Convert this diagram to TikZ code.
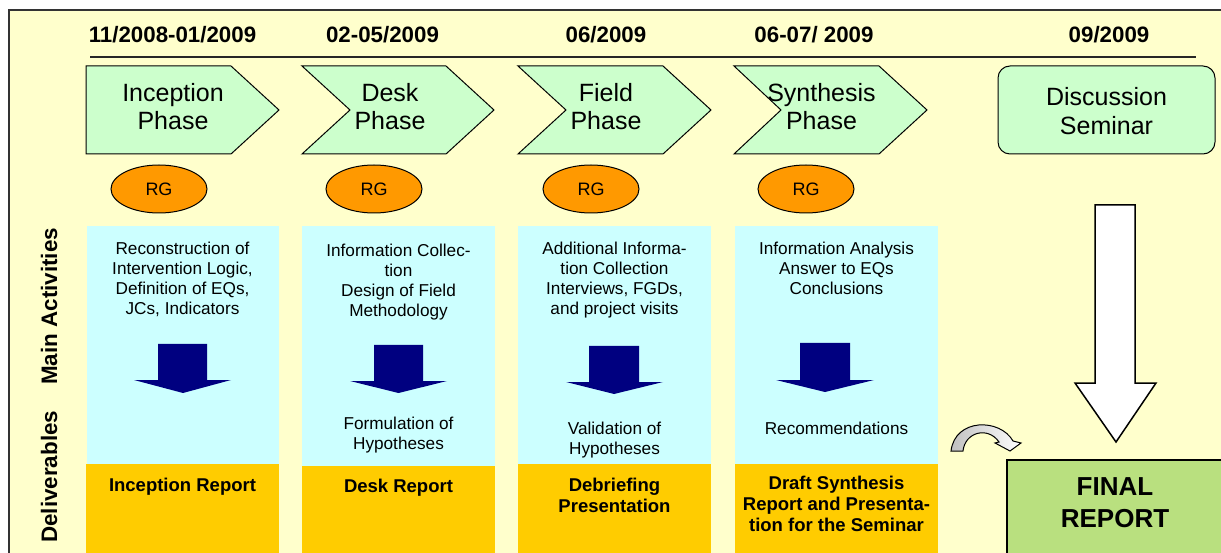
\documentclass[tikz,border=0pt]{standalone}
\usepackage{fontspec}
\setmainfont{Liberation Sans}
\usetikzlibrary{shapes.geometric}
\definecolor{bgY}{HTML}{FFFFCC}
\definecolor{phaseG}{HTML}{CCFFCC}
\definecolor{actC}{HTML}{CCFFFF}
\definecolor{delY}{HTML}{FFCC00}
\definecolor{rgO}{HTML}{FF9900}
\definecolor{navyA}{HTML}{000080}
\definecolor{finalG}{HTML}{B9E07F}
\definecolor{greyA}{HTML}{C0C0C0}
\begin{document}
\begin{tikzpicture}[x=1pt,y=-1pt,
  framebox/.style={draw=black!80,line width=1.5pt,fill=bgY},
  timeline/.style={draw=black!85,line width=1.4pt},
  phasebox/.style={draw=black,line width=1pt,fill=phaseG,line join=miter},
  phasetxt/.style={font=\fontsize{25}{28}\selectfont,align=center,inner sep=0pt,anchor=north},
  datetxt/.style={font=\fontsize{22.3}{26}\selectfont\bfseries,inner sep=0pt,anchor=base},
  rgnode/.style={ellipse,draw=black,line width=1pt,fill=rgO,minimum width=96pt,minimum height=48pt,inner sep=0pt,font=\fontsize{18}{20}\selectfont},
  actbox/.style={fill=actC},
  delbox/.style={fill=delY},
  acttxt/.style={font=\fontsize{17.2}{20}\selectfont,align=center,inner sep=0pt,anchor=north},
  deltxt/.style={font=\fontsize{18.5}{20.7}\selectfont\bfseries,align=center,inner sep=0pt,anchor=north},
  navyarrow/.style={fill=navyA},
  sidetxt/.style={font=\fontsize{22.4}{26}\selectfont\bfseries,rotate=90,inner sep=0pt,anchor=base west},
  whitearrow/.style={draw=black,line width=1.5pt,fill=white,line join=miter},
  curvarrow/.style={draw=black,line width=1pt,left color=greyA,right color=white,line join=miter},
  finalbox/.style={draw=black,line width=1.8pt,fill=finalG},
  finaltxt/.style={font=\fontsize{26}{32}\selectfont\bfseries,align=center,inner sep=0pt,anchor=north}
]
\useasboundingbox (0,0) rectangle (1221,553);
\clip (0,0) rectangle (1221,553);
\fill[white] (0,0) rectangle (1221,553);
\draw[framebox] (9,10) rectangle (1240,575);

% dates and timeline
\node[datetxt] (d1) at (172.5,43) {11/2008-01/2009};
\node[datetxt] (d2) at (382.5,43) {02-05/2009};
\node[datetxt] (d3) at (606,43) {06/2009};
\node[datetxt] (d4) at (814,43) {06-07/ 2009};
\node[datetxt] (d5) at (1109,43) {09/2009};
\coordinate (tlA) at (90,57);
\coordinate (tlB) at (1196,57);
\draw[timeline] (tlA) -- (tlB);

% phases
\draw[phasebox] (86,66) -- (231,66) -- (279,110) -- (231,154) -- (86,154) -- cycle;
\draw[phasebox] (302,66) -- (446,66) -- (494,110) -- (446,154) -- (302,154) -- (350,110) -- cycle;
\draw[phasebox] (518,66) -- (663,66) -- (711,110) -- (663,154) -- (518,154) -- (566,110) -- cycle;
\draw[phasebox] (734,66) -- (879,66) -- (927,110) -- (879,154) -- (734,154) -- (781,110) -- cycle;
\draw[phasebox,rounded corners=12pt] (998,66) rectangle (1215,154);
\node[phasetxt] (p1) at (173,83) {Inception\\Phase};
\node[phasetxt] (p2) at (390,83) {Desk\\Phase};
\node[phasetxt] (p3) at (606,83) {Field\\Phase};
\node[phasetxt] (p4) at (821.5,83) {Synthesis\\Phase};
\node[phasetxt,font=\fontsize{25}{29}\selectfont] (p5) at (1106.5,87) {Discussion\\Seminar};

% RG ellipses
\node[rgnode] (rg1) at (159,189) {RG};
\node[rgnode] (rg2) at (374,189) {RG};
\node[rgnode] (rg3) at (591,189) {RG};
\node[rgnode] (rg4) at (806,189) {RG};

% columns
\fill[actbox] (87,226) rectangle (279,464);
\fill[delbox] (86,464) rectangle (279,560);
\fill[actbox] (302,226) rectangle (495,466);
\fill[delbox] (302,466) rectangle (495,560);
\fill[actbox] (518,226) rectangle (711,464);
\fill[delbox] (518,464) rectangle (711,560);
\fill[actbox] (735,226) rectangle (938,464);
\fill[delbox] (735,464) rectangle (938,560);

% side labels
\node[sidetxt] (lmain) at (57,385) {Main Activities};
\node[sidetxt] (ldel) at (57,543) {Deliverables};

% activity texts
\node[acttxt] (a1) at (182.5,242) {Reconstruction of\\Intervention Logic,\\Definition of EQs,\\JCs, Indicators};
\node[acttxt] (a2) at (398.5,244) {Information Collec-\\tion\\Design of Field\\Methodology};
\node[acttxt] (a3) at (614.5,242) {Additional Informa-\\tion Collection\\Interviews, FGDs,\\and project visits};
\node[acttxt] (a4) at (836.5,242) {Information Analysis\\Answer to EQs\\Conclusions};
\node[acttxt] (b2) at (398.5,417) {Formulation of\\Hypotheses};
\node[acttxt] (b3) at (614.5,422) {Validation of\\Hypotheses};
\node[acttxt] (b4) at (836.5,422) {Recommendations};

% navy arrows
\fill[navyarrow] (158,344) -- (207,344) -- (207,380) -- (231,380) -- (183,393) -- (134,380) -- (158,380) -- cycle;
\fill[navyarrow] (374,345) -- (423,345) -- (423,381) -- (447,381) -- (398.5,393) -- (350,381) -- (374,381) -- cycle;
\fill[navyarrow] (589,346) -- (639,346) -- (639,382) -- (663,382) -- (614,394) -- (566,382) -- (589,382) -- cycle;
\fill[navyarrow] (800,343) -- (850,343) -- (850,380) -- (874,380) -- (825,392) -- (776,380) -- (800,380) -- cycle;

% deliverables
\node[deltxt] (r1) at (182.5,478) {Inception Report};
\node[deltxt] (r2) at (398.5,479) {Desk Report};
\node[deltxt] (r3) at (614.5,478) {Debriefing\\Presentation};
\node[deltxt] (r4) at (836.5,476) {Draft Synthesis\\Report and Presenta-\\tion for the Seminar};

% big white arrow
\draw[whitearrow] (1095,205) -- (1135,205) -- (1135,383) -- (1156,383) -- (1116,442) -- (1075,383) -- (1095,383) -- cycle;

% curved arrow
\draw[curvarrow] (951,451) -- (963,451) .. controls (965,432) and (988,426) .. (999,442) -- (995,443) -- (1010,451) -- (1021,443) -- (1013,441) .. controls (1000,418) and (955,418) .. (951,451) -- cycle;

% final report
\draw[finalbox] (1007,460) rectangle (1240,575);
\node[finaltxt] (fin) at (1115,477) {FINAL\\REPORT};
\end{tikzpicture}
\end{document}
